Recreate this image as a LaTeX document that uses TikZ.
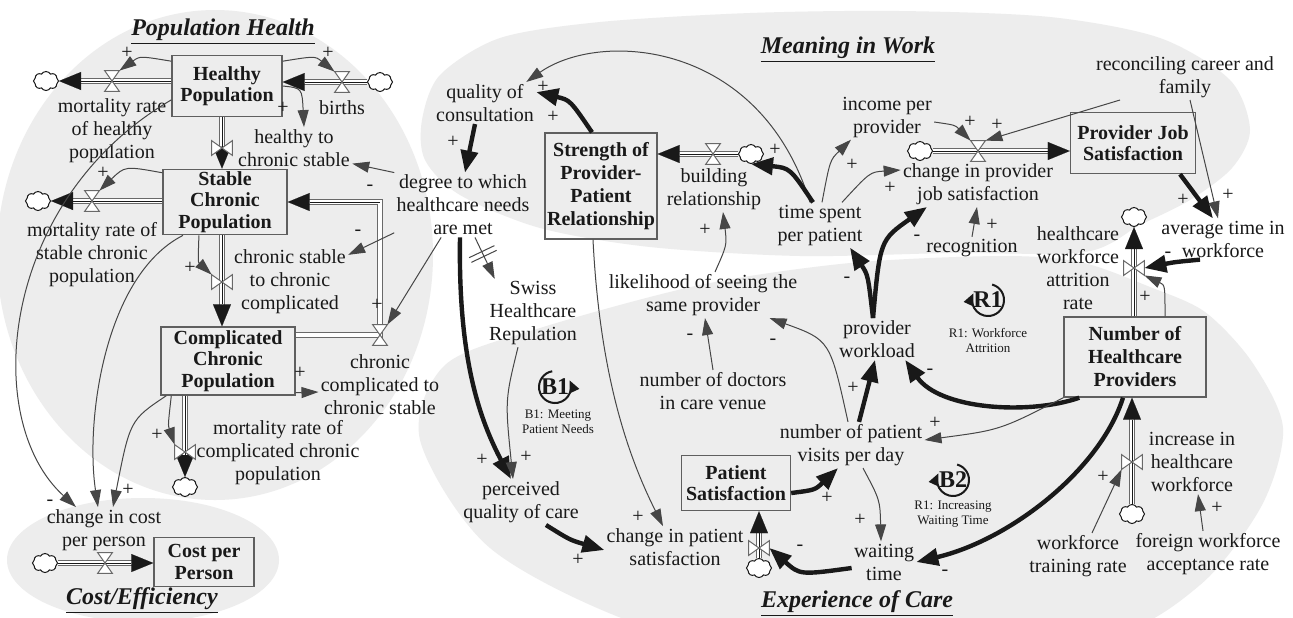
\documentclass[tikz,border=0pt]{standalone}
\usepackage{fontspec}
\setmainfont{Liberation Serif}
\usetikzlibrary{arrows.meta,shapes.symbols,decorations.markings,calc}
\definecolor{zone}{RGB}{237,237,237}
\definecolor{ink}{RGB}{25,25,25}
\definecolor{wire}{RGB}{70,70,70}
\definecolor{pipegray}{RGB}{105,105,105}
\definecolor{boxgray}{RGB}{95,95,95}
% valve glyphs drawn on an invisible placeholder node
\newcommand\hvalve[1]{\filldraw[valveline] (#1.north west) -- (#1.north east) -- (#1.south west) -- (#1.south east) -- cycle;}
\newcommand\vvalve[1]{\filldraw[valveline] (#1.north west) -- (#1.south west) -- (#1.north east) -- (#1.south east) -- cycle;}
\tikzset{
  var/.style={align=center, inner sep=1pt, text=ink, font=\fontsize{10}{11.5}\selectfont},
  stock/.style={draw=boxgray, line width=0.7pt, align=center, inner sep=1pt, text=ink, font=\bfseries\fontsize{10}{10.8}\selectfont},
  title/.style={text=ink, inner sep=1pt, font=\bfseries\itshape\fontsize{12}{14}\selectfont},
  sign/.style={text=ink, inner sep=0pt, font=\fontsize{10}{11}\selectfont},
  sink/.style={cloud, cloud puffs=8, cloud puff arc=120, cloud ignores aspect, draw=ink, line width=0.5pt, fill=white, minimum width=12.5pt, minimum height=9.5pt, inner sep=0pt},
  hv/.style={minimum width=7pt, minimum height=10pt, inner sep=0pt},
  vv/.style={minimum width=10pt, minimum height=7pt, inner sep=0pt},
  valveline/.style={draw=pipegray, fill=white, line width=0.5pt, line join=miter},
  pipe/.style={draw=pipegray, line width=0.55pt, double=white, double distance=2.2pt, line join=miter},
  pipetip/.style={draw=ink, line width=0.05pt, -{Triangle[length=11pt,width=9pt]}},
  link/.style={draw=wire, line width=0.5pt, -{Triangle[length=8.5pt,width=5.5pt]}},
  strong/.style={draw=ink, line width=2.2pt, -{Triangle[length=11pt,width=8.5pt]}},
  delay/.style={postaction={decorate}, decoration={markings, mark=at position 0.4 with {\draw[wire, line width=0.5pt, -] (-1.3pt,-7pt) -- (-1.3pt,7pt) (1.3pt,-7pt) -- (1.3pt,7pt);}}},
  loopid/.style={text=ink, inner sep=0pt, font=\bfseries\fontsize{12}{14}\selectfont},
  looptag/.style={align=center, text=ink, inner sep=0pt, font=\fontsize{6.5}{7.5}\selectfont},
  loopline/.style={draw=ink, line width=1pt, -{Triangle[length=6pt,width=5pt]}},
}
\begin{document}
\begin{tikzpicture}[x=0.5pt,y=-0.5pt]
\useasboundingbox (0,0) rectangle (1293,617);
\fill[white] (0,0) rectangle (1293,617);

% ---- sector backgrounds ----
\fill[zone] (215,255) ellipse [x radius=218, y radius=245];
\fill[zone] (143,560) ellipse [x radius=136, y radius=62];
\fill[zone] plot[smooth cycle] coordinates {(422,120) (440,75) (500,38) (600,22) (750,13) (900,11) (1050,17) (1160,38) (1230,80) (1250,130) (1232,168) (1190,200) (1140,225) (1085,252) (950,253) (800,256) (650,247) (540,228) (460,195) (425,160)};
\fill[zone] plot[smooth cycle] coordinates {(420,440) (445,365) (540,328) (700,285) (850,263) (1000,256) (1080,262) (1150,287) (1205,312) (1252,362) (1283,428) (1262,505) (1200,585) (1100,640) (850,675) (640,625) (490,548)};

% ---- sector titles ----
\node[title] (tph) at (223,32) {\underline{Population Health}};
\node[title] (tmw) at (848,50) {\underline{Meaning in Work}};
\node[title] (tce) at (142,601) {\underline{Cost/Efficiency}};
\node[title] (tec) at (857,604) {\underline{Experience of Care}};

% ---- stocks ----
\node[stock, minimum width=55pt, minimum height=30.5pt] (hp) at (227,86) {Healthy\\Population};
\node[stock, minimum width=62pt, minimum height=32pt] (scp) at (225,202) {Stable\\Chronic\\Population};
\node[stock, minimum width=67pt, minimum height=34pt] (ccp) at (228,361) {Complicated\\Chronic\\Population};
\node[stock, minimum width=50pt, minimum height=24.5pt] (cpp) at (204,562) {Cost per\\Person};
\node[stock, minimum width=54pt, minimum height=53pt, font=\bfseries\fontsize{10}{11.5}\selectfont] (sppr) at (601,186) {Strength of\\Provider-\\Patient\\Relationship};
\node[stock, minimum width=62.5pt, minimum height=30.5pt] (pjs) at (1133,143) {Provider Job\\Satisfaction};
\node[stock, minimum width=71pt, minimum height=40pt, font=\bfseries\fontsize{10}{11.5}\selectfont] (nhp) at (1135,357) {Number of\\Healthcare\\Providers};
\node[stock, minimum width=54.5pt, minimum height=27.5pt] (ps) at (736,483) {Patient\\Satisfaction};

% ---- sources and sinks ----
\node[sink] (c1) at (46,81) {};
\node[sink] (c2) at (380,82) {};
\node[sink] (c3) at (38,201) {};
\node[sink] (c4) at (185,487) {};
\node[sink] (c5) at (45,563) {};
\node[sink] (c6) at (751,154) {};
\node[sink] (c7) at (920,151) {};
\node[sink] (c8) at (1134,217) {};
\node[sink] (c9) at (1132,514) {};
\node[sink] (c10) at (759,568) {};

% ---- valve placeholders ----
\node[hv] (v1) at (112,81) {};
\node[hv] (v2) at (342,82) {};
\node[vv] (v3) at (222,148) {};
\node[hv] (v4) at (92,201) {};
\node[vv] (v5) at (222,282) {};
\node[hv] (v6) at (380,335) {};
\node[vv] (v7) at (185,452) {};
\node[hv] (v8) at (105,563) {};
\node[hv] (v9) at (713,154) {};
\node[hv] (v10) at (978,151) {};
\node[vv] (v11) at (1134,268) {};
\node[vv] (v12) at (1132,462) {};
\node[vv] (v13) at (759,548) {};

% ---- auxiliaries and flow names ----
\node[var] (mrh) at (112,131) {mortality rate\\of healthy\\population};
\node[var] (births) at (342,108) {births};
\node[var] (htc) at (294,148) {healthy to\\chronic stable};
\node[var] (mrs) at (92,255) {mortality rate of\\stable chronic\\population};
\node[var] (cstc) at (290,282) {chronic stable\\to chronic\\complicated};
\node[var] (cctc) at (380,385) {chronic\\complicated to\\chronic stable};
\node[var] (mrc) at (278,453) {mortality rate of\\complicated chronic\\population};
\node[var] (cicp) at (104,530) {change in cost\\per person};
\node[var] (deg) at (463,205) {degree to which\\healthcare needs\\are met};
\node[var] (qoc) at (485,103) {quality of\\consultation};
\node[var] (swiss) at (533,313) {Swiss\\Healthcare\\Repulation};
\node[var] (pqc) at (521,502) {perceived\\quality of care};
\node[var] (cips) at (675,547) {change in patient\\satisfaction};
\node[var] (lsp) at (703,295) {likelihood of seeing the\\same provider};
\node[var] (ndc) at (713,391) {number of doctors\\in care venue};
\node[var] (bldr) at (714,189) {building\\relationship};
\node[var] (tspp) at (820,225) {time spent\\per patient};
\node[var] (ipp) at (887,117) {income per\\provider};
\node[var] (cpjs) at (978,184) {change in provider\\job satisfaction};
\node[var] (rcf) at (1185,77) {reconciling career and\\family};
\node[var] (recog) at (972,248) {recognition};
\node[var] (atw) at (1223,239) {average time in\\workforce};
\node[var] (hwar) at (1078,268) {healthcare\\workforce\\attrition\\rate};
\node[var] (pw) at (877,339) {provider\\workload};
\node[var] (npv) at (851,445) {number of patient\\visits per day};
\node[var] (wt) at (884,562) {waiting\\time};
\node[var] (wtr) at (1078,556) {workforce\\training rate};
\node[var] (fwar) at (1208,554) {foreign workforce\\acceptance rate};
\node[var] (iihw) at (1192,462) {increase in\\healthcare\\workforce};

% ---- material flows (pipes) ----
\draw[pipe, shorten >=9pt] (hp.west |- v1) -- (c1.east);
\draw[pipetip] (hp.west |- v1) -- (c1.east);
\draw[pipe, shorten >=9pt] (c2.west) -- (hp.east |- c2);
\draw[pipetip] (c2.west) -- (hp.east |- c2);
\draw[pipe, shorten >=9pt] (v3 |- hp.south) -- (v3 |- scp.north);
\draw[pipetip] (v3 |- hp.south) -- (v3 |- scp.north);
\draw[pipe, shorten >=9pt] (scp.west |- v4) -- (c3.east);
\draw[pipetip] (scp.west |- v4) -- (c3.east);
\draw[pipe, shorten >=9pt] (v5 |- scp.south) -- (v5 |- ccp.north);
\draw[pipetip] (v5 |- scp.south) -- (v5 |- ccp.north);
\coordinate (k6) at (380,202);
\draw[pipe, shorten >=9pt] (ccp.east |- v6) -- (v6.center) -- (k6) -- (scp.east |- k6);
\draw[pipetip] (k6) -- (scp.east |- k6);
\draw[pipe, shorten >=9pt] (v7 |- ccp.south) -- (c4.north);
\draw[pipetip] (v7 |- ccp.south) -- (c4.north);
\draw[pipe, shorten >=9pt] (c5.east) -- (cpp.west |- c5);
\draw[pipetip] (c5.east) -- (cpp.west |- c5);
\draw[pipe, shorten >=9pt] (c6.west) -- (sppr.east |- c6);
\draw[pipetip] (c6.west) -- (sppr.east |- c6);
\draw[pipe, shorten >=9pt] (c7.east) -- (pjs.west |- c7);
\draw[pipetip] (c7.east) -- (pjs.west |- c7);
\draw[pipe, shorten >=9pt] (v11 |- nhp.north) -- (c8.south);
\draw[pipetip] (v11 |- nhp.north) -- (c8.south);
\draw[pipe, shorten >=9pt] (c9.north) -- (v12 |- nhp.south);
\draw[pipetip] (c9.north) -- (v12 |- nhp.south);
\draw[pipe, shorten >=9pt] (c10.north) -- (v13 |- ps.south);
\draw[pipetip] (c10.north) -- (v13 |- ps.south);

% ---- valves ----
\hvalve{v1} \hvalve{v2} \vvalve{v3} \hvalve{v4} \vvalve{v5} \hvalve{v6}
\vvalve{v7} \hvalve{v8} \hvalve{v9} \hvalve{v10} \vvalve{v11} \vvalve{v12} \vvalve{v13}

% ---- causal links: population health ----
\draw[link] (hp.156) .. controls (140,56) .. (v1.north east);
\draw[link] (hp.24) .. controls (315,56) .. (v2.north west);
\draw[link] (hp.east) .. controls (302,88) .. ([xshift=5pt]htc.north);
\draw[link] (deg.north west) -- (htc.-15);
\draw[link] (deg.202) -- (cstc.25);
\draw[link] (deg.236) -- (v6.north east);
\draw[link] (scp.155) .. controls (125,166) .. (v4.north east);
\draw[link] (scp.232) .. controls (198,262) .. (v5.north west);
\draw[link] ([yshift=1.5pt]ccp.south east) -- ([yshift=-3.5pt]cctc.west);
\draw[link] ([xshift=5.5pt]ccp.south west) .. controls (168,425) .. (v7.north west);
\draw[link] (hp.194) .. controls (0,200) and (-20,420) .. ([xshift=-14pt]cicp.north);
\draw[link] ([xshift=-21pt]scp.south) .. controls (105,275) and (85,420) .. ([xshift=-3pt]cicp.north);
\draw[link] ([xshift=3pt]ccp.south west) .. controls (130,420) .. ([xshift=4.5pt]cicp.north);

% ---- causal links: care and relationship ----
\draw[strong] ([xshift=-5pt]qoc.south) -- ([xshift=1pt]deg.north);
\draw[strong] ([xshift=-4.5pt]sppr.north) .. controls (570,100) .. (qoc.12);
\draw[link] ([xshift=-5pt]tspp.north) .. controls (760,40) and (600,30) .. ([xshift=-5pt]qoc.north east);
\draw[strong] ([xshift=-3.5pt]tspp.north) .. controls (790,168) .. (c6.south);
\draw[link] ([xshift=6pt]lsp.north) .. controls (727,245) .. ([xshift=4.5pt]bldr.south);
\draw[link] (ndc.north) -- ([xshift=1pt]lsp.south);
\draw[link] ([xshift=-1.5pt]npv.north) .. controls (830,340) .. ([xshift=-15pt]lsp.south east);
\draw[link, delay] ([xshift=6pt]deg.south) -- ([xshift=4pt]swiss.north west);
\draw[strong] ([xshift=-1.5pt]deg.south) .. controls (458,360) and (480,420) .. ([xshift=-5pt]pqc.north);
\draw[link] ([xshift=-7.5pt]swiss.south) .. controls (505,400) .. ([xshift=-4pt]pqc.north);
\draw[link] ([xshift=-4pt]sppr.south) .. controls (600,380) and (630,460) .. ([xshift=-6pt]cips.north);
\draw[strong] ([xshift=12.5pt]pqc.south) .. controls (570,540) .. ([yshift=-1.5pt]cips.west);
\draw[strong] ([yshift=-5pt]ps.east) .. controls (815,490) .. ([xshift=-6.5pt]npv.south);
\draw[strong] ([xshift=4pt]npv.north) -- ([xshift=-1pt]pw.south);
\draw[link] ([xshift=6pt]npv.south) .. controls (880,500) .. ([xshift=-1.5pt]wt.north);
\draw[strong] ([yshift=-3pt]wt.west) .. controls (800,575) .. (v13.east);
\draw[strong] ([xshift=8pt]nhp.south west) .. controls (1030,415) and (940,410) .. ([xshift=-6pt]pw.south east);
\draw[link] (nhp.south west) .. controls (1000,430) .. ([yshift=2.5pt]npv.east);
\draw[strong] ([xshift=-6pt]nhp.south) .. controls (1100,470) and (1010,540) .. (wt.east);

% ---- causal links: work and workforce ----
\draw[strong] ([xshift=-2pt]pw.north) .. controls (868,275) .. ([xshift=15pt]tspp.south);
\draw[strong] ([xshift=-2pt]pw.north) .. controls (880,240) .. ([xshift=-25.5pt]cpjs.south);
\draw[link] ([xshift=1pt]tspp.north) .. controls (830,160) .. ([xshift=-18pt]ipp.south);
\draw[link] ([xshift=11pt]tspp.north) .. controls (870,172) .. ([yshift=7pt]cpjs.west);
\draw[link] ([yshift=-2.5pt]ipp.east) .. controls (955,125) .. (v10.north west);
\draw[link] ([xshift=-32.5pt]rcf.south) -- (v10.north east);
\draw[link] ([xshift=2.5pt]rcf.south) -- ([xshift=-2.5pt]atw.north);
\draw[strong] ([xshift=23.5pt]pjs.south) -- ([xshift=-5pt]atw.north);
\draw[strong] ([xshift=-11.5pt]atw.south) .. controls (1175,262) .. (v11.east);
\draw[link] ([xshift=15pt]nhp.north) .. controls (1165,285) .. (v11.south east);
\draw[link] (recog.north) -- ([xshift=-0.5pt]cpjs.south);
\draw[link] ([xshift=7pt]wtr.north) -- (v12.south west);
\draw[link] ([xshift=-2.5pt]fwar.north) -- ([xshift=3pt]iihw.south);

% ---- link polarities ----
\foreach \x/\y/\s [count=\i] in {127/53/+, 328/53/+, 283/108/+, 370/188/-, 358/233/-, 377/305/+, 103/173/+, 190/268/+, 300/373/+, 157/435/+, 50/503/-, 128/490/+, 453/142/+, 553/117/+, 543/87/+, 775/150/+, 705/230/+, 690/337/-, 773/342/-, 482/460/+, 526/457/+, 638/517/+, 578/560/+, 827/498/+, 853/388/+, 860/520/+, 800/548/-, 930/372/-, 935/423/+, 945/573/-, 847/280/-, 917/238/-, 852/165/+, 890/188/+, 970/122/+, 997/125/+, 1228/195/+, 1183/200/+, 1168/255/-, 1145/297/+, 992/225/+, 1103/477/+, 1217/508/+}
  \node[sign] (sg\i) at (\x,\y) {\s};

% ---- feedback loop markers ----
\node[loopid] (b1) at (555,387) {B1};
\draw[loopline] (b1.center) ++(-100:16) arc[start angle=-100, end angle=-385, radius=16];
\node[looptag] (b1t) at (558,422) {B1: Meeting\\Patient Needs};
\node[loopid] (r1) at (988,300) {R1};
\draw[loopline] (r1.center) ++(-75:16) arc[start angle=-75, end angle=205, radius=16];
\node[looptag] (r1t) at (988,340) {R1: Workforce\\Attrition};
\node[loopid] (b2) at (953,480) {B2};
\draw[loopline] (b2.center) ++(-75:16) arc[start angle=-75, end angle=205, radius=16];
\node[looptag] (b2t) at (953,514) {R1: Increasing\\Waiting Time};
\end{tikzpicture}
\end{document}
